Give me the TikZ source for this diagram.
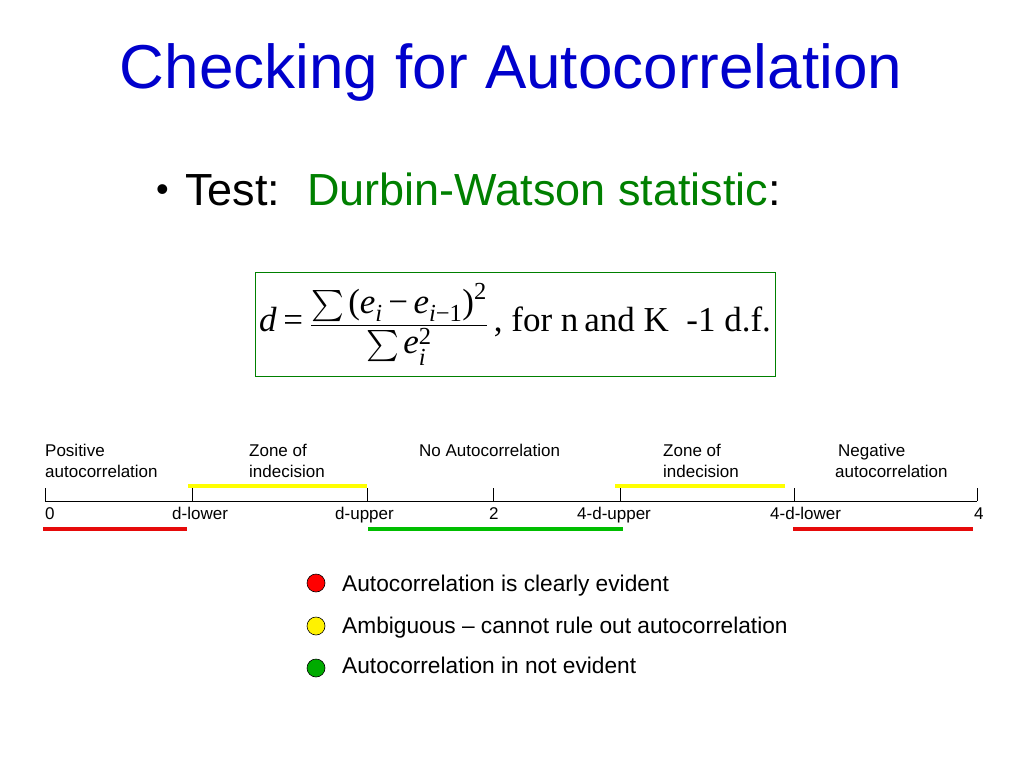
\documentclass[tikz,border=0pt]{standalone}
\usepackage{amsmath}
\usepackage{fontspec}
\setmainfont{Liberation Sans}
\newfontfamily\timesfont{Liberation Serif}
\usetikzlibrary{positioning}
\definecolor{titleblue}{RGB}{0,0,204}
\definecolor{dwgreen}{RGB}{0,128,0}
\definecolor{zonered}{RGB}{230,10,10}
\definecolor{zoneyellow}{RGB}{255,255,0}
\definecolor{zonegreen}{RGB}{0,190,0}
\newcommand{\bigsum}{\mathop{\scalebox{1.25}{$\sum$}}}
\newcommand{\tv}[1]{\textit{#1}}
\newcommand{\tn}[1]{\text{#1}}
\begin{document}
\begin{tikzpicture}[
    x=1pt, y=-1pt,
    title/.style={font=\fontsize{62}{70}\selectfont, text=titleblue, anchor=base, inner sep=0pt},
    bullettext/.style={font=\fontsize{45}{52}\selectfont, anchor=base west, inner sep=0pt},
    formula/.style={rectangle, draw=dwgreen, line width=1pt, minimum width=520pt, minimum height=104pt, font=\fontsize{35}{42}\selectfont\timesfont},
    lbl/.style={font=\fontsize{17}{20}\selectfont, anchor=base west, inner sep=0pt},
    zone/.style={line width=4pt},
    dot/.style={circle, draw=black, line width=0.6pt, minimum size=18pt, inner sep=0pt},
    legend/.style={font=\fontsize{22.7}{26}\selectfont, anchor=base west, inner sep=0pt}
]
\useasboundingbox[fill=white] (0,0) rectangle (1024,768);

% Title and bullet
\node[title] (title) at (511,88) {Checking for Autocorrelation};
\node[bullettext, font=\fontsize{36}{40}\selectfont] (bullet) at (156,201) {\textbullet};
\node[bullettext] (test) at (185,205) {Test:\hspace{0.6em}\textcolor{dwgreen}{Durbin-Watson statistic}:};

% Formula box
\node[formula] (dw) at (515,324) {$\tv{d}\mathrel{\tn{=}}\dfrac{\bigsum\tn{(}\tv{e}_{\tv{i}}\mathbin{\tn{−}}\tv{e}_{\tv{i}\tn{−1}}\tn{)}^{\tn{2}}}{\bigsum\tv{e}_{\tv{i}}^{\tn{2}}}$\,,\ for n\,and K\ \ -1 d.f.};

% Zone labels
\node[lbl] (pos1) at (45,456) {Positive};
\node[lbl] (pos2) at (45,477) {autocorrelation};
\node[lbl] (zl1) at (249,456) {Zone of};
\node[lbl] (zl2) at (249,477) {indecision};
\node[lbl] (noac) at (419,456) {No Autocorrelation};
\node[lbl] (zu1) at (663,456) {Zone of};
\node[lbl] (zu2) at (663,477) {indecision};
\node[lbl] (neg1) at (838,456) {Negative};
\node[lbl] (neg2) at (835,477) {autocorrelation};

% Axis with ticks
\foreach \x [count=\i from 0] in {45,192,367,493,620,794,977} {
    \coordinate (t\i) at (\x,501);
    \draw[line width=0.7pt] (t\i) -- ++(0,-13);
}
\draw[line width=0.7pt] (t0) -- (t6);

% Values under the axis
\node[lbl] (v0) at (45,519) {0};
\node[lbl] (v1) at (172,519) {d-lower};
\node[lbl] (v2) at (335,519) {d-upper};
\node[lbl] (v3) at (489,519) {2};
\node[lbl] (v4) at (577,519) {4-d-upper};
\node[lbl] (v5) at (770,519) {4-d-lower};
\node[lbl] (v6) at (974,519) {4};

% Coloured zones
\coordinate (r1a) at (43,529);  \coordinate (r1b) at (187,529);
\coordinate (ga) at (368,529);  \coordinate (gb) at (623,529);
\coordinate (r2a) at (793,529); \coordinate (r2b) at (973,529);
\coordinate (y1a) at (188,486); \coordinate (y1b) at (367,486);
\coordinate (y2a) at (615,486); \coordinate (y2b) at (785,486);
\draw[zone, zonered] (r1a) -- (r1b);
\draw[zone, zonered] (r2a) -- (r2b);
\draw[zone, zonegreen] (ga) -- (gb);
\draw[zone, zoneyellow] (y1a) -- (y1b);
\draw[zone, zoneyellow] (y2a) -- (y2b);

% Legend
\node[dot, fill=red] (dred) at (316,583) {};
\node[dot, fill=yellow] (dyellow) at (316,626) {};
\node[dot, fill=zonegreen!90!black] (dgreen) at (316,668) {};
\node[legend] (lred) at (342,591) {Autocorrelation is clearly evident};
\node[legend] (lyellow) at (342,633) {Ambiguous -- cannot rule out autocorrelation};
\node[legend] (lgreen) at (342,673) {Autocorrelation in not evident};
\end{tikzpicture}
\end{document}
